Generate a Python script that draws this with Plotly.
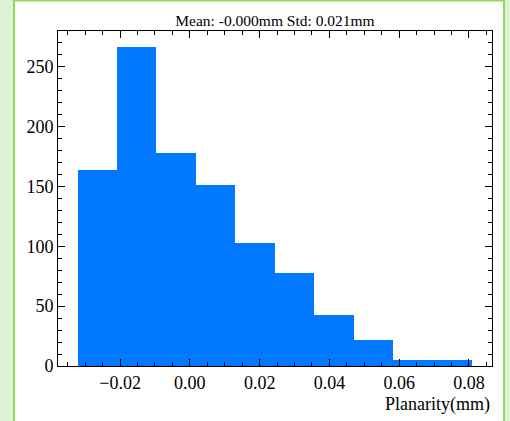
import plotly.graph_objects as go

# Histogram data
bin_edges = [-0.0322, -0.0209, -0.0096, 0.0017, 0.0130, 0.0243, 0.0356, 0.0469, 0.0582, 0.0695, 0.0808]
counts = [164, 267, 178, 151, 103, 78, 43, 22, 5, 5]
title_text = "Mean: -0.000mm Std: 0.021mm"
x_label = "Planarity(mm)"
x_tickvals = [-0.02, 0.00, 0.02, 0.04, 0.06, 0.08]
x_ticktext = ["\u22120.02", "0.00", "0.02", "0.04", "0.06", "0.08"]
y_tickvals = [0, 50, 100, 150, 200, 250]

centers = [(a + b) / 2 for a, b in zip(bin_edges[:-1], bin_edges[1:])]
widths = [b - a for a, b in zip(bin_edges[:-1], bin_edges[1:])]

FONT = "Liberation Serif"

fig = go.Figure()
fig.add_trace(go.Bar(
    x=centers, y=counts, width=widths,
    marker=dict(color="#0078ff", line=dict(width=0)),
    showlegend=False,
))

axis_common = dict(
    showline=True, linecolor="black", linewidth=1, mirror="allticks",
    ticks="inside", ticklen=7, tickwidth=1, tickcolor="black",
    showgrid=False, zeroline=False,
    tickfont=dict(family=FONT, size=18, color="black"),
)

fig.update_xaxes(
    range=[-0.0378, 0.0866],
    tickvals=x_tickvals, ticktext=x_ticktext,
    minor=dict(dtick=0.005, tick0=0, ticks="inside", ticklen=4, tickcolor="black", showgrid=False),
    **axis_common,
)
fig.update_yaxes(
    range=[0, 280],
    tickvals=y_tickvals,
    minor=dict(dtick=10, tick0=0, ticks="inside", ticklen=4, tickcolor="black", showgrid=False),
    **axis_common,
)

fig.update_layout(
    width=510, height=421,
    margin=dict(l=58, r=18, t=31, b=55),
    paper_bgcolor="#dcf2d2",
    plot_bgcolor="white",
    bargap=0,
    title=dict(text=title_text, x=0.5, xanchor="center", xref="paper",
               y=1 - 21 / 421, yanchor="middle",
               font=dict(family=FONT, size=15.5, color="black")),
    annotations=[dict(
        text=x_label, xref="paper", yref="paper", x=1.0, y=-0.114,
        xanchor="right", yanchor="middle", showarrow=False,
        font=dict(family=FONT, size=18, color="black"),
    )],
    shapes=[dict(
        type="rect", xref="paper", yref="paper",
        x0=(14 - 58) / 434, x1=(504 - 58) / 434,
        y0=-0.3, y1=(366 - 0.5) / 335,
        fillcolor="white", line=dict(color="#92d862", width=2),
        layer="below",
    )],
)

fig.write_html("out.html")
